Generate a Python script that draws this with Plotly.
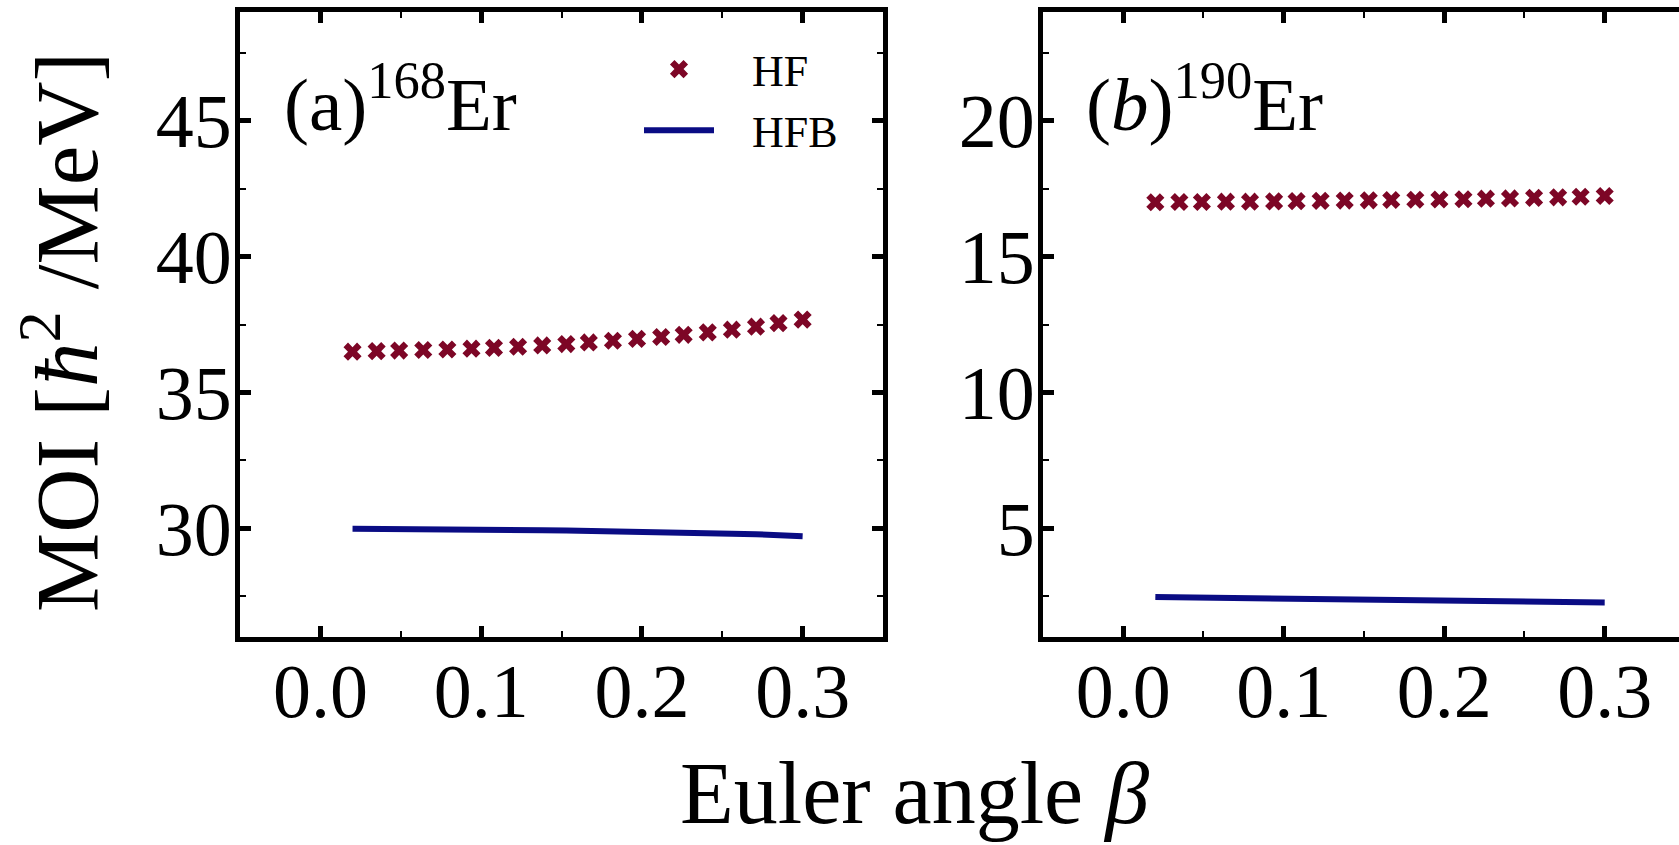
import plotly.graph_objects as go

W, H = 1679, 845

# ---- data ----
beta = [0.020, 0.035, 0.049, 0.064, 0.079, 0.094, 0.108, 0.123, 0.138, 0.153,
        0.167, 0.182, 0.197, 0.212, 0.226, 0.241, 0.256, 0.271, 0.285, 0.300]

hf_168 = [36.50, 36.52, 36.54, 36.56, 36.58, 36.61, 36.64, 36.68, 36.73, 36.78,
          36.84, 36.90, 36.97, 37.04, 37.12, 37.21, 37.31, 37.42, 37.55, 37.68]
hfb_168 = [29.98, 29.98, 29.97, 29.97, 29.96, 29.96, 29.95, 29.94, 29.93, 29.92,
           29.91, 29.90, 29.88, 29.87, 29.85, 29.83, 29.80, 29.78, 29.75, 29.71]

hf_190 = [17.00, 17.01, 17.01, 17.02, 17.02, 17.03, 17.04, 17.05, 17.06, 17.07,
          17.08, 17.09, 17.10, 17.11, 17.13, 17.14, 17.16, 17.18, 17.20, 17.23]
hfb_190 = [2.47, 2.46, 2.45, 2.44, 2.43, 2.42, 2.41, 2.40, 2.39, 2.38,
           2.37, 2.36, 2.35, 2.34, 2.33, 2.32, 2.31, 2.30, 2.28, 2.27]

x_ticks = [0.0, 0.1, 0.2, 0.3]
x_ticktext = ["0.0", "0.1", "0.2", "0.3"]
x_minor = [-0.05, 0.05, 0.15, 0.25, 0.35]
y_ticks_a = [30, 35, 40, 45]
y_minor_a = [27.5, 32.5, 37.5, 42.5, 47.5]
y_ticks_b = [5, 10, 15, 20]
y_minor_b = [2.5, 7.5, 12.5, 17.5, 22.5]

HF_COLOR = "#7d0626"
HFB_COLOR = "#0a0c84"
FONT = "Liberation Serif"


def px(x):
    return x / W


def py(y):
    return 1 - y / H


fig = go.Figure()

fig.add_trace(go.Scatter(x=beta, y=hf_168, mode="markers",
                         name="&nbsp;&nbsp;&nbsp;HF", legendgroup="hf",
                         marker=dict(symbol="x", size=16, color=HF_COLOR, line=dict(width=0)),
                         xaxis="x", yaxis="y"))
fig.add_trace(go.Scatter(x=beta, y=hfb_168, mode="lines",
                         name="&nbsp;&nbsp;&nbsp;HFB", legendgroup="hfb",
                         line=dict(color=HFB_COLOR, width=6),
                         xaxis="x", yaxis="y"))
fig.add_trace(go.Scatter(x=beta, y=hf_190, mode="markers", name="HF", showlegend=False,
                         marker=dict(symbol="x", size=16, color=HF_COLOR, line=dict(width=0)),
                         xaxis="x2", yaxis="y2"))
fig.add_trace(go.Scatter(x=beta, y=hfb_190, mode="lines", name="HFB", showlegend=False,
                         line=dict(color=HFB_COLOR, width=6),
                         xaxis="x2", yaxis="y2"))

ydom = [py(637), py(12)]
common = dict(showgrid=False, zeroline=False, showline=True, linecolor="black",
              linewidth=5, ticks="inside", ticklen=11, tickwidth=5, tickcolor="black",
              tickfont=dict(family=FONT, size=76, color="black"))
minor_style = dict(ticks="inside", ticklen=6, tickwidth=1.5, tickcolor="black")

fig.update_layout(
    width=W, height=H,
    margin=dict(l=0, r=0, t=0, b=0),
    paper_bgcolor="white", plot_bgcolor="white",
    xaxis=dict(domain=[px(240), px(883)], range=[-0.05, 0.35], anchor="y",
               tickvals=x_ticks, ticktext=x_ticktext, mirror="ticks",
               ticklabelstandoff=-16,
               minor=dict(tickvals=x_minor, **minor_style), **common),
    yaxis=dict(domain=ydom, range=[26, 49], anchor="x",
               tickvals=y_ticks_a, mirror="ticks", ticklabelstandoff=-12,
               minor=dict(tickvals=y_minor_a, **minor_style), **common),
    xaxis2=dict(domain=[px(1043), 1.0], range=[-0.05, 0.3463], anchor="y2",
                tickvals=x_ticks, ticktext=x_ticktext, mirror="ticks",
                ticklabelstandoff=-16,
                minor=dict(tickvals=x_minor, **minor_style), **common),
    yaxis2=dict(domain=ydom, range=[1, 24], anchor="x2",
                tickvals=y_ticks_b, mirror=False, ticklabelstandoff=-12,
                minor=dict(tickvals=y_minor_b, **minor_style), **common),
    showlegend=True,
    legend=dict(x=px(639), y=py(34), xanchor="left", yanchor="top",
                bgcolor="rgba(0,0,0,0)", font=dict(family=FONT, size=44, color="black"),
                itemwidth=70, tracegroupgap=1),
)

annots = [
    dict(text="MOI [<i>ħ</i><sup>2</sup> /MeV]", x=px(60), y=py(332), textangle=-90,
         yanchor="middle", font=dict(family=FONT, size=89, color="black")),
    dict(text="Euler angle <i>β</i>", x=px(914), y=py(844), yanchor="bottom",
         font=dict(family=FONT, size=88, color="black")),
    dict(text="(a)<sup>168</sup>Er", x=px(282), y=py(98), xanchor="left", yanchor="middle",
         font=dict(family=FONT, size=75, color="black")),
    dict(text="(<i>b</i>)<sup>190</sup>Er", x=px(1084), y=py(98), xanchor="left",
         yanchor="middle", font=dict(family=FONT, size=75, color="black")),
]
for a in annots:
    a.setdefault("xanchor", "center")
    a.update(xref="paper", yref="paper", showarrow=False)
    fig.add_annotation(**a)

fig.write_html("out.html")
